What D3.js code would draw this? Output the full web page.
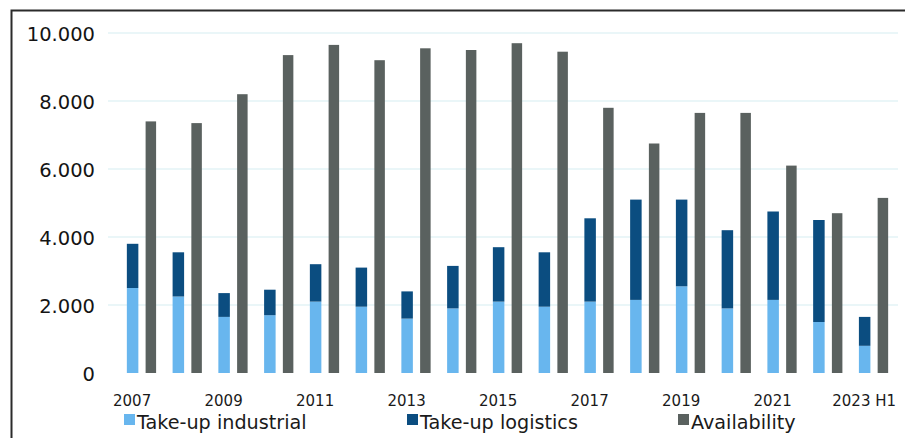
<!DOCTYPE html>
<html>
<head>
<meta charset="utf-8">
<script src="https://cdn.jsdelivr.net/npm/d3@7"></script>
<style>
  html, body { margin: 0; padding: 0; background: #fff; }
  svg { display: block; }
</style>
</head>
<body>
<div id="chart"></div>
<script>
// Industrial & logistics market: take-up vs. availability (sqm x 1.000)
const categories = ["2007","2008","2009","2010","2011","2012","2013","2014","2015",
                    "2016","2017","2018","2019","2020","2021","2022","2023 H1"];
const takeUpIndustrial = [2500,2250,1650,1700,2100,1950,1600,1900,2100,1950,2100,2150,2550,1900,2150,1500,800];
const takeUpLogistics  = [1300,1300,700,750,1100,1150,800,1250,1600,1600,2450,2950,2550,2300,2600,3000,850];
const availability     = [7400,7350,8200,9350,9650,9200,9550,9500,9700,9450,7800,6750,7650,7650,6100,4700,5150];
const yTicks = [0,2000,4000,6000,8000,10000];
const xTickLabels = ["2007","2009","2011","2013","2015","2017","2019","2021","2023 H1"];
const seriesNames = ["Take-up industrial","Take-up logistics","Availability"];

const W = 905, H = 438;
const colors = { ind: "#68b6ee", log: "#0b4d80", avail: "#5a615f" };
const fmt = v => d3.format(",")(v).replace(/,/g, ".");

const svg = d3.select("#chart").append("svg")
  .attr("width", W).attr("height", H)
  .style("font-family", "'DejaVu Sans', sans-serif");

const y = d3.scaleLinear().domain([0, 10000]).range([373, 33]);
const x = d3.scaleBand().domain(categories).range([118.6, 896.4]);
const sub = d3.scaleBand().domain(["takeup", "avail"]).range([0, x.bandwidth()]).padding(0.44);

// gridlines
svg.append("g").selectAll("line")
  .data(yTicks.filter(d => d > 0)).join("line")
  .attr("x1", 108).attr("x2", 898)
  .attr("y1", d => y(d)).attr("y2", d => y(d))
  .attr("stroke", "#d6eef2").attr("stroke-width", 1.2);

// y axis labels
const yAxis = d3.axisLeft(y).tickValues(yTicks).tickFormat(fmt).tickSize(0).tickPadding(0);
svg.append("g").attr("transform", "translate(95,0)").call(yAxis)
  .call(g => g.select(".domain").remove())
  .call(g => g.selectAll("text")
    .attr("fill", "#141414").style("font-size", "19.5px")
    .style("font-family", "'DejaVu Sans', sans-serif").attr("dy", "0.36em"));

// stacked take-up
const stackData = categories.map((c, i) => ({ cat: c, industrial: takeUpIndustrial[i], logistics: takeUpLogistics[i] }));
const stacked = d3.stack().keys(["industrial", "logistics"])(stackData);
svg.append("g").selectAll("g").data(stacked).join("g")
  .attr("fill", d => d.key === "industrial" ? colors.ind : colors.log)
  .selectAll("rect").data(d => d).join("rect")
  .attr("x", d => x(d.data.cat) + sub("takeup"))
  .attr("width", sub.bandwidth() + 1)
  .attr("y", d => y(d[1]))
  .attr("height", d => y(d[0]) - y(d[1]));

// availability
svg.append("g").selectAll("rect")
  .data(categories.map((c, i) => ({ cat: c, v: availability[i] }))).join("rect")
  .attr("fill", colors.avail)
  .attr("x", d => x(d.cat) + sub("avail"))
  .attr("width", sub.bandwidth())
  .attr("y", d => y(d.v))
  .attr("height", d => y(0) - y(d.v));

// x axis labels, centred under the take-up bars
const xAxis = d3.axisBottom(x).tickValues(xTickLabels).tickSize(0).tickPadding(0);
const xg = svg.append("g").attr("transform", "translate(0,395)").call(xAxis);
xg.select(".domain").remove();
xg.selectAll(".tick").attr("transform", d => `translate(${x(d) + sub("takeup") + sub.bandwidth() / 2},0)`);
xg.selectAll("text").attr("fill", "#1a1a1a").attr("dy", "0.72em")
  .style("font-size", "15px").style("font-family", "'DejaVu Sans', sans-serif");

// legend
const legendX = [124, 407, 678];
const lg = svg.append("g").selectAll("g").data(seriesNames).join("g")
  .attr("transform", (d, i) => `translate(${legendX[i]},0)`);
lg.append("rect").attr("y", 414).attr("width", 11).attr("height", 11)
  .attr("fill", (d, i) => [colors.ind, colors.log, colors.avail][i]);
lg.append("text").attr("x", 13).attr("y", 429).text(d => d)
  .attr("fill", "#1a1a1a").style("font-size", "19.2px");

// frame
svg.append("path").attr("d", `M11.5,438 V10.5 H905`)
  .attr("fill", "none").attr("stroke", "#2b2b2b").attr("stroke-width", 2);
</script>
</body>
</html>
